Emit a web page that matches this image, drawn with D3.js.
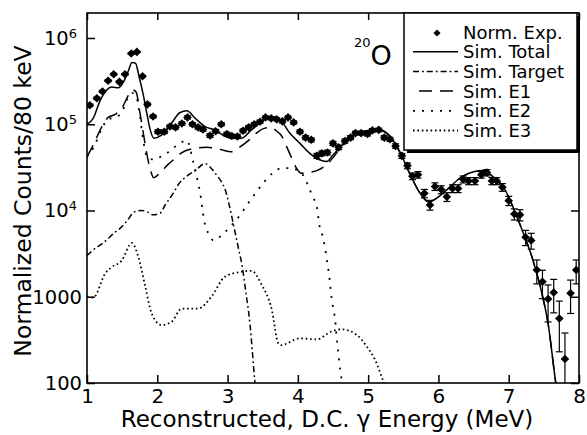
<!DOCTYPE html>
<html><head><meta charset="utf-8">
<script src="https://cdn.jsdelivr.net/npm/d3@7"></script>
<style>
html,body{margin:0;padding:0;background:#fff;}
svg text{font-family:"DejaVu Sans",Verdana,sans-serif;fill:#000;}
</style></head><body>
<svg id="c" width="587" height="435"></svg>
<script>
// ---- data ----
const xTicks=[1,2,3,4,5,6,7,8];
const yTicks=[100,1000,1e4,1e5,1e6];
const yTickLabels=[["100",""],["1000",""],["10","4"],["10","5"],["10","6"]];
const legendLabels=["Norm. Exp.","Sim. Total","Sim. Target","Sim. E1","Sim. E2","Sim. E3"];

const expE=[1.04,1.14,1.22,1.30,1.38,1.46,1.54,1.63,1.71,1.79,1.86,1.94,2.01,2.10,2.18,2.26,2.35,2.43,2.50,2.58,2.65,2.75,2.83,2.91,2.99,3.06,3.14,3.22,3.30,3.38,3.46,3.54,3.62,3.70,3.78,
3.86,3.94,4.03,4.11,4.19,4.27,4.34,4.42,4.50,4.58,4.67,4.75,4.82,4.90,4.99,5.06,5.15,5.23,5.31,5.39,5.48,5.56,5.63,5.71,5.80,5.88,5.95,6.04,6.12,6.20,6.28,6.35,6.43,6.52,
6.61,6.69,6.76,6.83,6.91,7.00,7.08,7.16,7.24,7.32,7.40,7.48,7.56,7.64,7.72,7.80,7.88,7.96];
const expV=[1.66e5,2.0e5,2.4e5,3.2e5,3.8e5,3.1e5,3.8e5,6.6e5,6.9e5,3.6e5,1.7e5,1.23e5,8.2e4,8.2e4,9.4e4,9.2e4,1.02e5,1.2e5,1.0e5,9.2e4,8.7e4,7.4e4,8.3e4,1.0e5,7.7e4,7.3e4,7.2e4,8.4e4,9.2e4,1.0e5,1.07e5,1.2e5,1.17e5,1.14e5,1.08e5,
1.2e5,1.05e5,8.2e4,7.0e4,6.6e4,4.3e4,4.6e4,4.7e4,6.0e4,5.4e4,6.4e4,7.0e4,7.9e4,7.9e4,7.7e4,8.5e4,8.6e4,7.0e4,6.7e4,5.6e4,4.3e4,3.3e4,2.5e4,2.6e4,1.58e4,1.16e4,1.9e4,1.75e4,1.44e4,1.8e4,1.8e4,2.3e4,2.2e4,2.2e4,
2.6e4,2.75e4,2.2e4,2.2e4,1.86e4,1.3e4,9.1e3,8.9e3,4.9e3,4.5e3,2040,1490,940,1120,560,190,1100,2040];
const expErr=[5700,6260,6860,7920,8630,7800,8630,11400,11600,8400,5770,4910,4010,4010,4290,4250,4470,4850,4430,4250,4130,3810,4030,4430,3880,3780,3760,4060,4250,4430,4580,4850,4790,4730,4600,
4850,4540,4010,3700,3600,2900,3000,3040,3430,3250,3540,3700,3940,3940,3880,4080,4110,3700,3620,3310,2900,2540,2210,2260,1760,1510,1930,1850,1680,1880,1880,2120,2080,2080,
2260,2320,2080,2080,1910,1600,1340,1320,980,940,630,540,430,470,330,190,460,630];

const totalE=[1.0,1.09,1.18,1.28,1.35,1.45,1.52,1.59,1.64,1.69,1.74,1.80,1.85,1.90,1.95,2.06,2.20,2.32,2.42,2.54,2.68,2.82,2.96,3.08,3.20,3.34,3.48,3.63,3.75,3.89,4.03,4.17,4.30,4.41,4.50,4.69,4.93,5.15,5.31,5.45,5.59,5.74,5.86,5.97,6.12,6.30,6.49,6.64,6.78,6.92,7.06,7.21,7.33,7.45,7.56,7.67,7.75];
const totalV=[1.0e5,1.18e5,1.83e5,2.5e5,2.7e5,2.65e5,3.1e5,4.2e5,5.2e5,5.1e5,3.6e5,2.2e5,1.35e5,8.6e4,6.9e4,7.5e4,1.02e5,1.36e5,1.43e5,1.17e5,9.4e4,8.6e4,7.3e4,6.9e4,6.9e4,8.6e4,1.07e5,1.23e5,1.12e5,7.8e4,6.0e4,4.6e4,3.9e4,3.7e4,4.4e4,6.4e4,8.3e4,8.7e4,7.3e4,4.8e4,2.7e4,1.58e4,1.26e4,1.38e4,1.74e4,2.35e4,2.8e4,2.9e4,2.45e4,1.9e4,1.1e4,5.4e3,2.9e3,1.3e3,490,100,40];

const targetE=[1.0,1.09,1.23,1.40,1.47,1.56,1.68,1.78,1.85,1.94,2.04,2.11,2.23,2.30,2.42,2.54,2.68,2.75,2.84,2.92,2.96,3.03,3.08,3.15,3.21,3.25,3.32,3.39,3.43];
const targetV=[3.0e3,3.5e3,4.2e3,5.6e3,6.2e3,7.4e3,9.7e3,1.0e4,9.7e3,8.9e3,9.3e3,1.15e4,1.6e4,2.0e4,2.5e4,2.9e4,3.5e4,3.2e4,2.6e4,2.1e4,1.8e4,1.1e4,7.1e3,3.8e3,2.2e3,1.3e3,470,100,50];

const e1E=[1.0,1.1,1.2,1.3,1.4,1.5,1.58,1.65,1.7,1.75,1.8,1.85,1.9,1.95,2.05,2.15,2.25,2.35,2.5,2.7,2.9,3.05,3.15,3.3,3.42,3.51,3.62,3.70,3.77,3.84,3.91,3.98,4.05,4.12,4.27,4.41,4.5,4.58,4.69,4.93,5.15,5.31,5.45,5.59,5.74,5.86,5.97,6.12,6.30,6.49,6.64,6.78,6.92,7.06,7.21,7.33,7.45,7.56,7.67,7.75];
const e1V=[4.2e4,6.0e4,9.0e4,1.2e5,1.3e5,1.55e5,2.1e5,2.5e5,2.35e5,1.4e5,8.0e4,4.6e4,3.0e4,2.4e4,2.8e4,3.4e4,4.0e4,4.7e4,5.2e4,5.4e4,5.1e4,4.8e4,5.3e4,6.5e4,8.0e4,8.9e4,9.2e4,8.3e4,7.3e4,5.5e4,4.1e4,3.1e4,2.7e4,2.75e4,2.9e4,3.4e4,4.1e4,5.0e4,6.3e4,8.2e4,8.6e4,7.2e4,4.75e4,2.7e4,1.58e4,1.26e4,1.38e4,1.74e4,2.35e4,2.8e4,2.9e4,2.45e4,1.9e4,1.1e4,5.4e3,2.9e3,1.3e3,490,100,40];

const e2E=[1.0,1.1,1.2,1.3,1.4,1.5,1.58,1.65,1.7,1.75,1.8,1.86,1.95,2.05,2.15,2.28,2.42,2.51,2.58,2.61,2.65,2.68,2.73,2.80,2.94,3.06,3.18,3.29,3.40,3.51,3.65,3.77,3.90,4.00,4.07,4.14,4.21,4.27,4.31,4.36,4.41,4.45,4.48,4.53,4.56,4.61,4.65];
const e2V=[4.2e4,5.5e4,8.5e4,1.15e5,1.2e5,1.4e5,2.0e5,2.3e5,2.1e5,1.3e5,6.5e4,4.1e4,3.9e4,4.2e4,4.7e4,5.7e4,6.5e4,3.7e4,2.1e4,1.6e4,9.3e3,6.8e3,5.4e3,4.5e3,5.4e3,6.8e3,8.9e3,1.2e4,1.6e4,2.1e4,2.75e4,3.1e4,3.1e4,2.9e4,2.6e4,2.0e4,1.44e4,1.1e4,6.5e3,4.8e3,2.8e3,1630,960,540,290,130,80];

const e3E=[1.0,1.09,1.26,1.35,1.49,1.64,1.73,1.83,1.92,2.06,2.20,2.35,2.58,2.77,2.96,3.20,3.34,3.48,3.63,3.72,3.76,4.03,4.27,4.46,4.62,4.84,4.98,5.10,5.21,5.25];
const e3V=[1000,980,1870,2200,2600,4200,2900,1300,640,470,510,730,730,1000,1700,1950,2000,1400,700,290,275,330,320,390,420,360,265,185,108,90];

// ---- layout ----
const L=87,R=579,T=13,B=383;
const x=d3.scaleLinear().domain([1,8]).range([L,R]);
const y=d3.scaleLog().domain([100,1e6]).range([B,38]);
const svg=d3.select("#c");
svg.append("rect").attr("width",587).attr("height",435).attr("fill","#fff");
svg.append("defs").append("clipPath").attr("id","clip")
  .append("rect").attr("x",L).attr("y",T).attr("width",R-L).attr("height",B-T);
const g=svg.append("g").attr("clip-path","url(#clip)");

const styles={
  total:{dash:null,w:1.5},
  target:{dash:"6,3,1.8,3",w:1.5},
  e1:{dash:"13,8",w:1.5},
  e2:{dash:"2,7",w:1.8},
  e3:{dash:"1.6,2.8",w:1.8}
};
const line=d3.line().x(d=>x(d[0])).y(d=>y(Math.max(d[1],1))).curve(d3.curveMonotoneX);
function series(E,V,st){
  g.append("path").datum(E.map((e,i)=>[e,V[i]])).attr("d",line)
   .attr("fill","none").attr("stroke","#000").attr("stroke-width",st.w)
   .attr("stroke-dasharray",st.dash);
}
series(e3E,e3V,styles.e3);
series(e2E,e2V,styles.e2);
series(targetE,targetV,styles.target);
series(e1E,e1V,styles.e1);
series(totalE,totalV,styles.total);

// experimental points with error bars
const pts=expE.map((e,i)=>({e,v:expV[i],er:expErr[i]}));
const eb=g.append("g").attr("stroke","#000").attr("stroke-width",1.2);
pts.forEach(p=>{
  const px=x(p.e), yt=y(p.v+p.er), yb=y(Math.max(p.v-p.er,1));
  eb.append("line").attr("x1",px).attr("x2",px).attr("y1",yt).attr("y2",yb);
  eb.append("line").attr("x1",px-3.5).attr("x2",px+3.5).attr("y1",yt).attr("y2",yt);
  eb.append("line").attr("x1",px-3.5).attr("x2",px+3.5).attr("y1",yb).attr("y2",yb);
});
const dr=4.3;
const diamond=`M0,${-dr}L${dr},0L0,${dr}L${-dr},0Z`;
g.append("g").selectAll("path").data(pts).join("path")
  .attr("d",diamond).attr("transform",d=>`translate(${x(d.e)},${y(d.v)})`).attr("fill","#000");

// ---- axes ----
const ax=svg.append("g");
const xb=ax.append("g").attr("transform",`translate(0,${B})`)
  .call(d3.axisBottom(x).tickValues(xTicks).tickSize(-8).tickSizeOuter(0).tickPadding(6).tickFormat(d3.format("d")));
const xt=ax.append("g").attr("transform",`translate(0,${T})`)
  .call(d3.axisTop(x).tickValues(xTicks).tickSize(-7).tickSizeOuter(0).tickFormat(""));
const yl=ax.append("g").attr("transform",`translate(${L},0)`)
  .call(d3.axisLeft(y).tickValues(yTicks).tickSize(-8).tickSizeOuter(0).tickPadding(5).tickFormat(""));
const yr=ax.append("g").attr("transform",`translate(${R},0)`)
  .call(d3.axisRight(y).tickValues(yTicks).tickSize(-8).tickSizeOuter(0).tickFormat(""));
[xb,xt,yl,yr].forEach(a=>{a.select(".domain").remove(); a.selectAll(".tick line").attr("stroke","#000").attr("stroke-width",1.5);});
xb.selectAll(".tick text").attr("font-size",20).attr("font-family","DejaVu Sans").attr("fill","#000");
yl.selectAll(".tick").each(function(d,i){
  const lab=yTickLabels[yTicks.indexOf(d)];
  const t=d3.select(this).select("text").attr("font-size",19.5).attr("font-family","DejaVu Sans").attr("fill","#000").text(null);
  t.attr("x",lab[1]?-10:-5).attr("dy","0.33em");
  t.append("tspan").text(lab[0]);
  if(lab[1]) t.append("tspan").attr("font-size",13).attr("dy","-0.55em").text(lab[1]);
});
svg.append("rect").attr("x",L).attr("y",T).attr("width",R-L).attr("height",B-T)
  .attr("fill","none").attr("stroke","#000").attr("stroke-width",1.6);

// axis titles
svg.append("text").attr("x",327).attr("y",427).attr("text-anchor","middle").attr("font-size",23)
  .text("Reconstructed, D.C. γ Energy (MeV)");
svg.append("text").attr("transform","translate(31,201) rotate(-90)").attr("text-anchor","middle").attr("font-size",23.5)
  .text("Normalized Counts/80 keV");

// isotope label
const iso=svg.append("text").attr("x",354).attr("y",65);
iso.append("tspan").attr("font-size",13).attr("dy","-18").text("20");
iso.append("tspan").attr("font-size",27).attr("dy","18").text("O");

// ---- legend ----
const lg=svg.append("g");
lg.append("rect").attr("x",407).attr("y",16).attr("width",173).attr("height",137).attr("fill","#000");
lg.append("rect").attr("x",404).attr("y",13).attr("width",173).attr("height",137).attr("fill","#fff").attr("stroke","#000").attr("stroke-width",1.5);
const legStyles=[null,styles.total,styles.target,styles.e1,styles.e2,styles.e3];
legendLabels.forEach((lab,i)=>{
  const by=38.5+i*19.7;
  lg.append("text").attr("x",463).attr("y",by).attr("font-size",18).text(lab);
  if(i===0){
    lg.append("path").attr("d",`M0,-3.6L3.6,0L0,3.6L-3.6,0Z`).attr("transform",`translate(437,${by-5.5})`).attr("fill","#000");
  } else {
    const st=legStyles[i];
    lg.append("line").attr("x1",413).attr("x2",458).attr("y1",by-6.5).attr("y2",by-6.5)
      .attr("stroke","#000").attr("stroke-width",st.w).attr("stroke-dasharray",st.dash)
      .attr("stroke-dashoffset",i===3?-6:0);
  }
});
</script>
</body></html>
